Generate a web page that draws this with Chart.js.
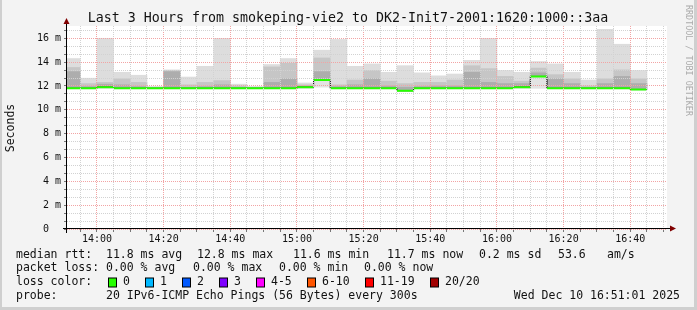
<!DOCTYPE html>
<html>
<head>
<meta charset="utf-8">
<script src="https://cdn.jsdelivr.net/npm/chart.js@4.4.1/dist/chart.umd.min.js"></script>
<style>
  html, body { margin: 0; padding: 0; background: #f3f3f3; }
  #wrap { width: 697px; height: 310px; }
</style>
</head>
<body>
<div id="wrap"><canvas id="chart" width="697" height="310"></canvas></div>
<script>
// 5 minute steps, label = end of step
const times = ['13:55','14:00','14:05','14:10','14:15','14:20','14:25','14:30','14:35','14:40',
               '14:45','14:50','14:55','15:00','15:05','15:10','15:15','15:20','15:25','15:30',
               '15:35','15:40','15:45','15:50','15:55','16:00','16:05','16:10','16:15','16:20',
               '16:25','16:30','16:35','16:40','16:45'];

// ms
const medianRtt = [11.8,11.8,11.9,11.8,11.8,11.8,11.8,11.8,11.8,11.8,
                   11.8,11.8,11.8,11.8,11.9,12.5,11.8,11.8,11.8,11.8,
                   11.6,11.8,11.8,11.8,11.8,11.8,11.8,11.9,12.8,11.8,
                   11.8,11.8,11.8,11.8,11.7];
const maxRtt    = [14.3,12.65,16.0,13.15,12.9,11.95,13.35,12.75,13.65,16.0,
                   12.15,11.95,13.8,14.3,12.25,15.0,15.9,13.65,13.85,13.15,
                   13.7,13.1,12.85,13.0,14.15,16.0,13.3,13.15,14.05,13.85,
                   13.15,12.5,16.75,15.5,13.3];
const midRtt    = [13.55,12.2,12.3,12.6,12.3,11.9,13.3,12.1,12.3,12.45,
                   12.0,11.9,13.6,13.9,12.1,14.35,12.1,12.5,13.3,12.4,
                   12.2,12.3,12.3,12.5,13.7,13.45,12.8,12.4,13.5,12.95,
                   12.6,12.0,12.6,13.35,12.6];
const upperRtt  = [13.2,11.95,12.15,12.1,11.95,11.85,13.2,11.9,11.95,12.1,
                   11.9,11.85,12.3,12.6,12.0,13.2,11.95,12.1,12.6,12.0,
                   11.9,11.95,12.0,12.0,13.15,12.3,12.2,12.2,13.1,12.6,
                   12.2,11.9,12.2,12.8,12.2];
const minRtt    = [11.8,11.8,11.8,11.8,11.8,11.8,11.8,11.8,11.8,11.8,
                   11.8,11.8,11.8,11.8,11.8,11.9,11.8,11.8,11.8,11.8,
                   11.6,11.8,11.8,11.8,11.8,11.8,11.8,11.8,11.8,11.8,
                   11.8,11.8,11.8,11.8,11.7];

const xTickLabels = ['14:00','14:20','14:40','15:00','15:20','15:40','16:00','16:20','16:40'];
const yTickValues = [0, 2, 4, 6, 8, 10, 12, 14, 16];

const rttStats  = ['11.8 ms avg', '12.8 ms max', '11.6 ms min', '11.7 ms now', '0.2 ms sd', '53.6', 'am/s'];
const lossStats = ['0.00 % avg', '0.00 % max', '0.00 % min', '0.00 % now'];
const lossColors = [['0','#26ff00'],['1','#00b8ff'],['2','#0059ff'],['3','#7e00ff'],
                    ['4-5','#ff00ff'],['6-10','#ff5500'],['11-19','#ff0000'],['20/20','#a10000']];

const toMin = s => { const p = s.split(':').map(Number); return p[0] * 60 + p[1]; };
const ends = times.map(toMin);
const startMin = 13 * 60 + 51 + 1 / 60;
const endMin = 16 * 60 + 51 + 1 / 60;

const band = (lo, hi) => ends.map((e, i) => ({ x: e - 2.5, y: [lo[i], hi[i]] }));

const blackLine = [{ x: ends[0] - 5, y: medianRtt[0] }].concat(ends.map((e, i) => ({ x: e, y: medianRtt[i] })));
const greenLine = [];
ends.forEach((e, i) => {
  greenLine.push({ x: e - 5, y: medianRtt[i] }, { x: e, y: medianRtt[i] }, { x: e, y: null });
});

const MONO = 'DejaVu Sans Mono';
Chart.defaults.font.family = MONO;

const isMajorY = v => yTickValues.some(t => Math.abs(t - v) < 1e-6);
const isMajorX = v => xTickLabels.some(l => toMin(l) === v);

const rrdLook = {
  id: 'rrdLook',
  beforeDraw(chart) {
    const c = chart.ctx, a = chart.chartArea;
    c.save();
    c.fillStyle = '#f3f3f3';
    c.fillRect(0, 0, 697, 310);
    c.fillStyle = '#cfcfcf';
    c.fillRect(0, 0, 2, 310);
    c.fillRect(694, 0, 3, 310);
    c.fillRect(0, 307, 697, 3);
    c.fillStyle = '#ffffff';
    c.fillRect(a.left, a.top, a.right - a.left, a.bottom - a.top);
    c.restore();
  },
  afterDraw(chart) {
    const c = chart.ctx, a = chart.chartArea;
    c.save();
    // axes
    c.strokeStyle = '#000';
    c.lineWidth = 1;
    c.beginPath();
    c.moveTo(a.left - 4, a.bottom - 0.5); c.lineTo(a.right + 6, a.bottom - 0.5);
    c.moveTo(a.left - 0.5, a.bottom + 4); c.lineTo(a.left - 0.5, a.top - 4);
    c.stroke();
    c.fillStyle = '#800000';
    c.beginPath();
    c.moveTo(a.right + 9, a.bottom - 0.5); c.lineTo(a.right + 3, a.bottom - 3.5); c.lineTo(a.right + 3, a.bottom + 2.5);
    c.closePath(); c.fill();
    c.beginPath();
    c.moveTo(a.left - 0.5, a.top - 8); c.lineTo(a.left - 3.5, a.top - 2); c.lineTo(a.left + 2.5, a.top - 2);
    c.closePath(); c.fill();

    c.fillStyle = '#111';
    c.textBaseline = 'middle';
    // title
    c.font = '13.3px ' + MONO;
    c.textAlign = 'center';
    c.fillText('Last 3 Hours from smokeping-vie2 to DK2-Init7-2001:1620:1000::3aa', 348, 19);

    // y title
    c.font = '11.5px ' + MONO;
    c.save();
    c.translate(11, 128);
    c.rotate(-Math.PI / 2);
    c.fillText('Seconds', 0, 0);
    c.restore();

    // watermark
    c.save();
    c.fillStyle = '#ababab';
    c.font = '8.4px ' + MONO;
    c.translate(688, 5);
    c.rotate(Math.PI / 2);
    c.textAlign = 'left';
    c.fillText('RRDTOOL / TOBI OETIKER', 0, 0);
    c.restore();

    // legend
    c.textAlign = 'left';
    c.font = '11.5px ' + MONO;
    const y1 = 255, y2 = 268.5, y3 = 282.5, y4 = 296.5;
    c.fillText('median rtt:', 16, y1);
    [106, 197, 293, 387, 479, 558, 607].forEach((x, i) => c.fillText(rttStats[i], x, y1));
    c.fillText('packet loss:', 16, y2);
    [106, 193, 279, 364].forEach((x, i) => c.fillText(lossStats[i], x, y2));
    c.fillText('loss color:', 16, y3);
    [108.5, 145.5, 182.5, 219.5, 256.5, 307.5, 365.5, 430.5].forEach((x, i) => {
      c.fillStyle = lossColors[i][1];
      c.fillRect(x, y3 - 4.5, 8, 9);
      c.strokeStyle = '#000';
      c.strokeRect(x, y3 - 4.5, 8, 9);
      c.fillStyle = '#111';
      c.fillText(lossColors[i][0], x + 14.5, y3);
    });
    c.fillText('probe:', 16, y4);
    c.fillText('20 IPv6-ICMP Echo Pings (56 Bytes) every 300s', 106, y4);
    c.textAlign = 'right';
    c.fillText('Wed Dec 10 16:51:01 2025', 680, y4);
    c.restore();
  }
};

new Chart(document.getElementById('chart'), {
  type: 'bar',
  data: {
    datasets: [
      { type: 'line', data: greenLine, borderColor: '#26ff00', borderWidth: 2, pointRadius: 0, spanGaps: false, fill: false },
      { type: 'line', data: blackLine, borderColor: '#000000', borderWidth: 1, pointRadius: 0, stepped: 'after', fill: false },
      { data: band(medianRtt, upperRtt), backgroundColor: '#adadad' },
      { data: band(medianRtt, midRtt), backgroundColor: '#c6c6c6' },
      { data: band(medianRtt, maxRtt), backgroundColor: '#dddddd' },
      { data: band(minRtt, medianRtt), backgroundColor: '#e3e3e3' }
    ]
  },
  options: {
    responsive: false,
    animation: false,
    devicePixelRatio: 1,
    layout: { padding: { left: 0, top: 26, right: 30, bottom: 61 } },
    datasets: {
      bar: { grouped: false, barPercentage: 1, categoryPercentage: 1, borderWidth: 0 }
    },
    plugins: { legend: { display: false }, tooltip: { enabled: false } },
    scales: {
      x: {
        type: 'linear',
        min: startMin,
        max: endMin,
        offset: false,
        afterBuildTicks: s => {
          const t = [];
          for (let v = Math.ceil(startMin / 5) * 5; v < endMin; v += 5) t.push({ value: v });
          s.ticks = t;
        },
        afterFit: s => { s.height = 20; },
        grid: {
          offset: false,
          z: 1,
          color: ctx => isMajorX(ctx.tick.value) ? '#f2a4a4' : '#d2d2d2',
          tickColor: '#777',
          tickLength: 3
        },
        border: { display: false, dash: [1, 1] },
        ticks: {
          autoSkip: false,
          maxRotation: 0,
          padding: 1,
          color: '#111',
          font: { size: 10, family: MONO },
          callback: v => { const l = xTickLabels.find(s => toMin(s) === v); return l || ''; }
        }
      },
      y: {
        type: 'linear',
        min: 0,
        max: 17.03,
        afterBuildTicks: s => {
          const t = [];
          for (let k = 0; k * 2 / 3 <= 17; k++) t.push({ value: k * 2 / 3 });
          s.ticks = t;
        },
        afterFit: s => { s.width = 67; },
        grid: {
          z: 1,
          color: ctx => isMajorY(ctx.tick.value) ? '#f2a4a4' : '#d2d2d2',
          tickColor: '#777',
          tickLength: 3
        },
        border: { display: false, dash: [1, 1] },
        ticks: {
          autoSkip: false,
          padding: 3,
          color: '#111',
          font: { size: 10, family: MONO },
          callback: v => {
            if (!isMajorY(v)) return '';
            const n = Math.round(v);
            return n === 0 ? '0  ' : n + ' m';
          }
        }
      }
    }
  },
  plugins: [rrdLook]
});
</script>
</body>
</html>
